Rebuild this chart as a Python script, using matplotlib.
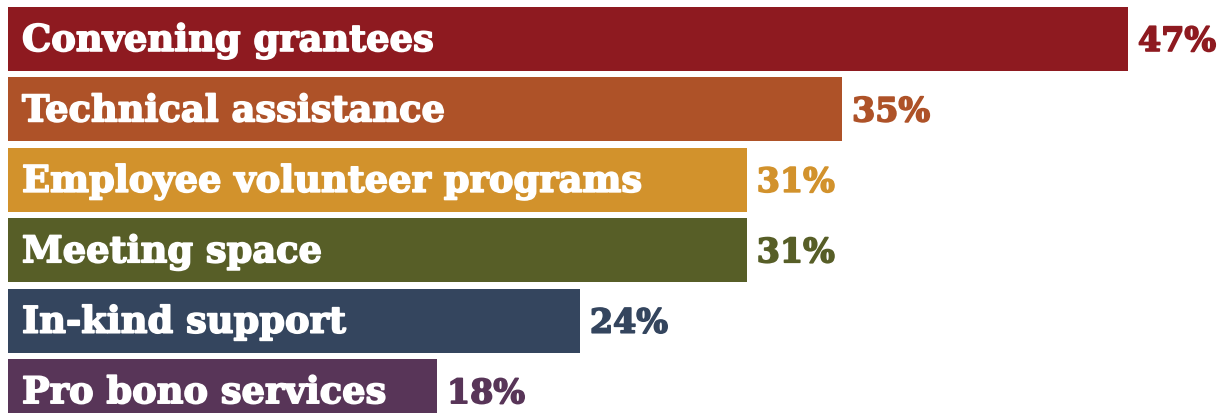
import matplotlib.pyplot as plt
import matplotlib.patheffects as pe

# Datos del gráfico
categories = ['Convening grantees', 'Technical assistance', 'Employee volunteer programs',
              'Meeting space', 'In-kind support', 'Pro bono services']
values = [47, 35, 31, 31, 24, 18]
colors = ['#8E1A20', '#AE5228', '#D2922C', '#575E27', '#34455E', '#583558']

fig = plt.figure(figsize=(12.27, 4.14), dpi=100)
ax = fig.add_axes([0, 0, 1, 1])

px = 1 / 23.83  # unidades de datos por pixel horizontal
ypos = list(range(len(categories)))
ax.barh(ypos, values, height=0.91, color=colors, left=0)

for y, cat, val, col in zip(ypos, categories, values, colors):
    ax.text(14 * px, y + 0.17, cat, color='white', fontsize=26.5, fontweight='bold',
            family='DejaVu Serif', va='baseline', ha='left',
            path_effects=[pe.withStroke(linewidth=1.2, foreground='white')])
    ax.text(val + 10 * px, y + 0.17, f'{val}%', color=col, fontsize=24, fontweight='bold',
            family='DejaVu Serif', va='baseline', ha='left',
            path_effects=[pe.withStroke(linewidth=1.2, foreground=col)])

ax.set_xlim(-8 * px, 1219 * px)
ax.set_ylim(5.31, -0.568)
ax.axis('off')

fig.savefig('out.png', dpi=100)
